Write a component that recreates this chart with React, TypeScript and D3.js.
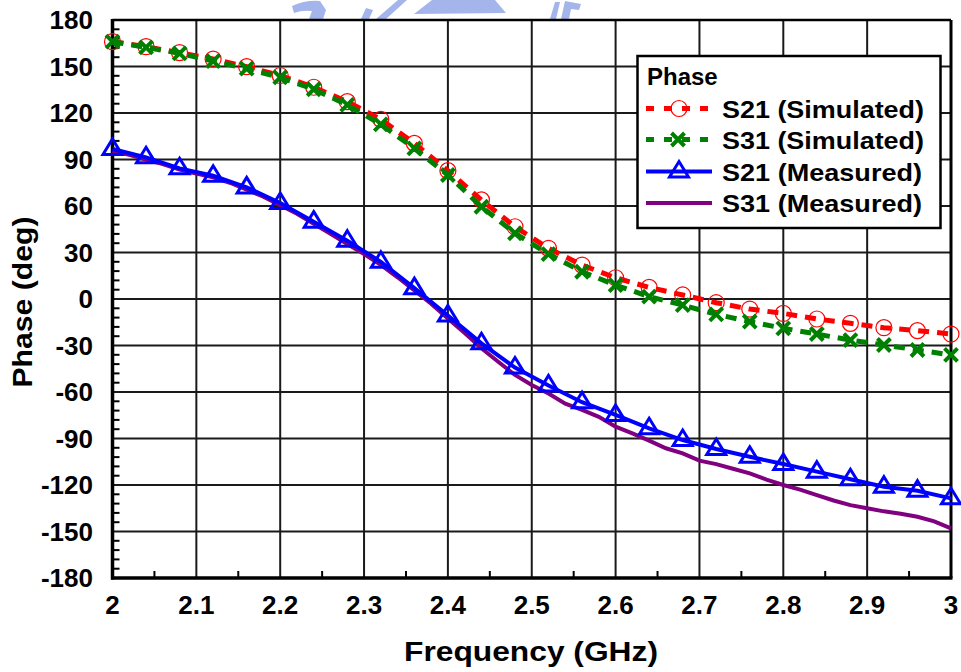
import React, { useEffect, useRef } from 'react';
import * as d3 from 'd3';

// 频率点 (GHz)
const freqSim = [2.0, 2.04, 2.08, 2.12, 2.16, 2.2, 2.24, 2.28, 2.32, 2.36, 2.4, 2.44, 2.48, 2.52, 2.56, 2.6, 2.64, 2.68, 2.72, 2.76, 2.8, 2.84, 2.88, 2.92, 2.96, 3.0];
const s21Sim = [166, 162.8, 158.9, 154.8, 149.9, 144.2, 136.6, 127.3, 115.9, 100.4, 82.8, 63.9, 46.6, 32.7, 21.9, 13.7, 7.5, 2.6, -2.4, -6.5, -9.3, -12.9, -15.7, -18.5, -20.4, -22.6];
const s31Sim = [166, 162.3, 158.5, 153.5, 148.6, 143, 135.3, 125.2, 112.7, 97.2, 80, 59.5, 42.4, 29, 17.6, 9, 1.5, -3.9, -9.9, -14.6, -18.9, -22.6, -26.5, -29.7, -32.9, -36.1];
const s21Meas = [96.8, 91.4, 84.3, 79.5, 72, 61.9, 49.9, 37.6, 24, 7, -10.6, -28.6, -44.2, -55.8, -66.6, -74.8, -83.4, -91, -96.8, -101.8, -106.5, -111.4, -116.3, -121.1, -123.7, -128.6];

const freqMeas = [2.0, 2.02, 2.04, 2.06, 2.08, 2.1, 2.12, 2.14, 2.16, 2.18, 2.2, 2.22, 2.24, 2.26, 2.28, 2.3, 2.32, 2.34, 2.36, 2.38, 2.4, 2.42, 2.44, 2.46, 2.48, 2.5, 2.52, 2.54, 2.56, 2.58, 2.6, 2.62, 2.64, 2.66, 2.68, 2.7, 2.72, 2.74, 2.76, 2.78, 2.8, 2.82, 2.84, 2.86, 2.88, 2.9, 2.92, 2.94, 2.96, 2.98, 3.0];
const s31Meas = [95.5, 93, 90, 87, 83.5, 81, 78.5, 75, 70.5, 66, 60.5, 55, 48.5, 42, 35.5, 29, 22, 14, 5.5, -3, -12.5, -22, -31.8, -40.5, -49, -55.5, -61, -67.5, -71.6, -76, -82.4, -86.7, -91.4, -96.3, -99.6, -104.3, -106.5, -109.5, -112.5, -116.5, -120, -123, -126.5, -130, -133, -135, -137, -138.5, -140.5, -143.5, -148];

const xTicks = [2, 2.1, 2.2, 2.3, 2.4, 2.5, 2.6, 2.7, 2.8, 2.9, 3];
const yTicks = [-180, -150, -120, -90, -60, -30, 0, 30, 60, 90, 120, 150, 180];
const legendLabels = ['S21 (Simulated)', 'S31 (Simulated)', 'S21 (Measured)', 'S31 (Measured)'];

const FONT = 'Liberation Sans, Arial, sans-serif';

const PhaseChart = () => {
  const svgRef = useRef<SVGSVGElement>(null);

  useEffect(() => {
    const width = 961;
    const height = 672;
    const svg = d3.select(svgRef.current);
    svg.selectAll('*').remove();
    svg.attr('width', width).attr('height', height);

    const x = d3.scaleLinear().domain([2, 3]).range([112.5, 951]);
    const y = d3.scaleLinear().domain([-180, 180]).range([578, 20]);

    // 水印 (淡蓝色图案)
    const wm = svg.append('g').attr('fill', '#a3b5ea');
    wm.append('path').attr('d', 'M292,6 Q305,0 320,1 L326,10 L323,19 L309,19 L312,11 Q302,10 294,13 Z');
    wm.append('path').attr('d', 'M361,19 L366,8 L373,10 L369,19 Z');
    wm.append('path').attr('d', 'M376,19 L398,0 L407,0 L386,19 Z');
    wm.append('path').attr('d', 'M414,14 L432,0 L495,0 L506,13 Z');
    wm.append('path').attr('d', 'M550,19 L555,2 L560,2 L556,19 Z');
    wm.append('path').attr('d', 'M561,19 L565,1 L581,4 L579,10 L571,9 L569,19 Z');

    // 网格
    const grid = svg.append('g').attr('stroke', '#1a1a1a').attr('stroke-width', 2);
    xTicks.forEach(t => {
      grid.append('line').attr('x1', x(t)).attr('x2', x(t)).attr('y1', y(180)).attr('y2', y(-180));
    });
    yTicks.forEach(t => {
      grid.append('line').attr('x1', x(2)).attr('x2', x(3)).attr('y1', y(t)).attr('y2', y(t));
    });

    // 次刻度
    const minor = svg.append('g').attr('stroke', '#000').attr('stroke-width', 2);
    d3.range(-180, 180, 6).filter(v => v % 30 !== 0).forEach(v => {
      minor.append('line').attr('x1', x(2)).attr('x2', x(2) + 7).attr('y1', y(v)).attr('y2', y(v));
    });
    xTicks.slice(0, -1).forEach(t => {
      const m = t + 0.05;
      minor.append('line').attr('x1', x(m)).attr('x2', x(m)).attr('y1', y(-180)).attr('y2', y(-180) - 7);
    });

    // 边框
    svg.append('line').attr('x1', x(2)).attr('x2', x(3)).attr('y1', y(180)).attr('y2', y(180))
      .attr('stroke', '#000').attr('stroke-width', 2.5);
    svg.append('line').attr('x1', x(3)).attr('x2', x(3)).attr('y1', y(180)).attr('y2', y(-180))
      .attr('stroke', '#000').attr('stroke-width', 3);
    svg.append('line').attr('x1', x(2)).attr('x2', x(2)).attr('y1', y(180) - 1).attr('y2', y(-180) + 1.5)
      .attr('stroke', '#000').attr('stroke-width', 3.5);
    svg.append('line').attr('x1', x(2) - 1.5).attr('x2', x(3) + 1.5).attr('y1', y(-180)).attr('y2', y(-180))
      .attr('stroke', '#000').attr('stroke-width', 3.5);

    // 刻度标签
    svg.append('g').selectAll('text').data(yTicks).enter().append('text')
      .attr('x', 93).attr('y', d => y(d) + 9)
      .attr('text-anchor', 'end')
      .attr('font-family', FONT).attr('font-weight', 'bold').attr('font-size', 26)
      .text(d => d);
    svg.append('g').selectAll('text').data(xTicks).enter().append('text')
      .attr('x', d => x(d)).attr('y', 614)
      .attr('text-anchor', 'middle')
      .attr('font-family', FONT).attr('font-weight', 'bold').attr('font-size', 26)
      .text(d => d);

    // 轴标题
    svg.append('text').attr('x', 531).attr('y', 661).attr('text-anchor', 'middle')
      .attr('font-family', FONT).attr('font-weight', 'bold').attr('font-size', 27)
      .attr('textLength', 254).attr('lengthAdjust', 'spacingAndGlyphs')
      .text('Frequency (GHz)');
    svg.append('text').attr('transform', 'translate(32,302) rotate(-90)').attr('text-anchor', 'middle')
      .attr('font-family', FONT).attr('font-weight', 'bold').attr('font-size', 27)
      .attr('textLength', 171).attr('lengthAdjust', 'spacingAndGlyphs')
      .text('Phase (deg)');

    const line = d3.line<[number, number]>().x(d => x(d[0])).y(d => y(d[1]));
    const pts = (xs: number[], ys: number[]) => xs.map((f, i) => [f, ys[i]] as [number, number]);

    const cross = (g: any, cx: number, cy: number, s: number) => {
      g.append('path').attr('d', `M${cx - s},${cy - s}L${cx + s},${cy + s}M${cx - s},${cy + s}L${cx + s},${cy - s}`);
    };
    const tri = (g: any, cx: number, cy: number) => {
      g.append('path').attr('d', `M${cx},${cy - 10}L${cx + 9.5},${cy + 5.5}L${cx - 9.5},${cy + 5.5}Z`);
    };

    const plot = svg.append('g');

    // S21 仿真
    plot.append('path').attr('d', line(pts(freqSim, s21Sim)))
      .attr('fill', 'none').attr('stroke', '#ff0000').attr('stroke-width', 5).attr('stroke-dasharray', '11 8');
    const c1 = plot.append('g').attr('fill', 'none').attr('stroke', '#ff0000').attr('stroke-width', 1.2);
    freqSim.forEach((f, i) => {
      c1.append('circle').attr('cx', x(f)).attr('cy', y(s21Sim[i])).attr('r', 8);
    });

    // S31 仿真
    plot.append('path').attr('d', line(pts(freqSim, s31Sim)))
      .attr('fill', 'none').attr('stroke', '#008000').attr('stroke-width', 5).attr('stroke-dasharray', '11 8');
    const c2 = plot.append('g').attr('fill', 'none').attr('stroke', '#008000').attr('stroke-width', 4);
    freqSim.forEach((f, i) => cross(c2, x(f), y(s31Sim[i]), 6.5));

    // S31 测量
    plot.append('path').attr('d', line(pts(freqMeas, s31Meas)))
      .attr('fill', 'none').attr('stroke', '#800080').attr('stroke-width', 4);

    // S21 测量
    plot.append('path').attr('d', line(pts(freqSim, s21Meas)))
      .attr('fill', 'none').attr('stroke', '#0000ff').attr('stroke-width', 4);
    const c3 = plot.append('g').attr('fill', 'none').attr('stroke', '#0000ff').attr('stroke-width', 3);
    freqSim.forEach((f, i) => tri(c3, x(f), y(s21Meas[i])));

    // 图例
    const lg = svg.append('g');
    lg.append('rect').attr('x', 637.5).attr('y', 56).attr('width', 303).attr('height', 172)
      .attr('fill', '#fff').attr('stroke', '#000').attr('stroke-width', 2.5);
    lg.append('text').attr('x', 647).attr('y', 85)
      .attr('font-family', FONT).attr('font-weight', 'bold').attr('font-size', 24)
      .text('Phase');
    const rowY = [108.5, 139.5, 171.5, 203];
    legendLabels.forEach((lab, i) => {
      lg.append('text').attr('x', 722).attr('y', rowY[i] + 9)
        .attr('font-family', FONT).attr('font-weight', 'bold').attr('font-size', 24)
        .attr('textLength', i < 2 ? 202 : 200).attr('lengthAdjust', 'spacingAndGlyphs')
        .text(lab);
    });
    lg.append('line').attr('x1', 646).attr('x2', 708).attr('y1', rowY[0]).attr('y2', rowY[0])
      .attr('stroke', '#ff0000').attr('stroke-width', 5).attr('stroke-dasharray', '8 10');
    lg.append('circle').attr('cx', 679).attr('cy', rowY[0]).attr('r', 8)
      .attr('fill', 'none').attr('stroke', '#ff0000').attr('stroke-width', 1.2);
    lg.append('line').attr('x1', 646).attr('x2', 708).attr('y1', rowY[1]).attr('y2', rowY[1])
      .attr('stroke', '#008000').attr('stroke-width', 5).attr('stroke-dasharray', '8 10');
    const lc = lg.append('g').attr('fill', 'none').attr('stroke', '#008000').attr('stroke-width', 4);
    cross(lc, 678, rowY[1], 6.5);
    lg.append('line').attr('x1', 646).attr('x2', 712).attr('y1', rowY[2]).attr('y2', rowY[2])
      .attr('stroke', '#0000ff').attr('stroke-width', 4);
    const lt = lg.append('g').attr('fill', 'none').attr('stroke', '#0000ff').attr('stroke-width', 3);
    tri(lt, 679, rowY[2]);
    lg.append('line').attr('x1', 646).attr('x2', 712).attr('y1', rowY[3]).attr('y2', rowY[3])
      .attr('stroke', '#800080').attr('stroke-width', 4);
  }, []);

  return <svg ref={svgRef} style={{ position: 'absolute', left: 0, top: 0 }}></svg>;
};

export default function App() {
  return <PhaseChart />;
}
